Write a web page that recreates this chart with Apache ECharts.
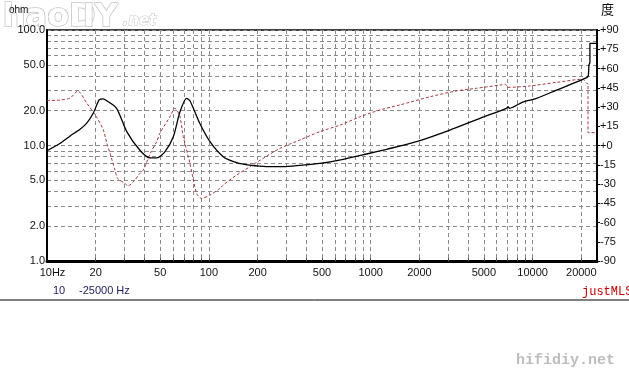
<!DOCTYPE html>
<html>
<head>
<meta charset="utf-8">
<script src="https://cdn.jsdelivr.net/npm/echarts@6/dist/echarts.min.js"></script>
<style>
html,body{margin:0;padding:0;background:#fff;}
#c{width:629px;height:384px;}
</style>
</head>
<body>
<div id="c"></div>
<script>
// Impedance curve (frequency Hz, ohm)
var impFreq = [10, 12, 13.9, 16, 17.6, 19.3, 21, 22.2, 23.4, 26.9, 31.1, 37.5, 43.3, 47.6, 53.6, 60.3, 66.3, 72.9, 76.4, 88, 101.6, 122.7, 148.5, 179, 227, 288, 365, 485, 676, 943, 1254, 1921, 3084, 4726, 6900, 7050, 7200, 8750, 10586, 14060, 21560, 22100, 22300, 22600, 22600, 25000];
var impOhm  = [9.0, 10.4, 12.1, 13.8, 15.6, 19.0, 24.8, 25.3, 24.4, 21.0, 13.2, 9.1, 7.8, 7.8, 8.85, 11.9, 19.6, 25.6, 24.4, 15.5, 10.8, 8.0, 7.1, 6.75, 6.56, 6.56, 6.73, 7.0, 7.6, 8.44, 9.27, 10.8, 13.6, 17.2, 21.0, 21.7, 21.0, 23.9, 25.6, 30.2, 38.7, 40.5, 50, 52, 76.7, 76.7];

// Phase curve (frequency Hz, degrees)
var phFreq = [10, 12, 13.9, 15.5, 17.6, 20.2, 22.3, 23.4, 24.5, 26.3, 27.3, 30.3, 31.5, 34.1, 37.5, 39.4, 43.5, 47.6, 49.8, 57.5, 61.6, 66, 69.5, 76.4, 84, 90, 101.6, 117, 122.7, 148.5, 179.4, 216.5, 275, 365, 485, 650, 860, 1140, 1514, 2330, 3370, 4500, 6300, 6800, 7000, 9600, 14060, 20400, 21560, 22000, 22000, 25000];
var phDeg  = [35, 35.4, 37, 42.5, 33, 22.4, 12, 2, -6, -19, -25.6, -29.5, -31.6, -28.5, -21.7, -19, -6.1, 3.0, 9.5, 22.4, 29, 23.5, 7, -14, -37.3, -41.2, -38.6, -33.4, -30.8, -23, -16.5, -10, -2.2, 4.3, 10.8, 16, 22.4, 27.7, 31.6, 38, 42.5, 44.6, 47.1, 47.7, 45.3, 46.4, 49.2, 51.6, 48.5, 48, 10, 10];

// Axis tick / label values
var xGridValues = [20,30,40,50,60,70,80,90,100,200,300,400,500,600,700,800,900,1000,2000,3000,4000,5000,6000,7000,8000,9000,10000,20000];
var xLabelValues = [10,20,50,100,200,500,1000,2000,5000,10000,20000];
var yGridValues = [1,2,3,4,5,6,7,8,9,10,20,30,40,50,60,70,80,90,100];
var yLabelValues = [1,2,5,10,20,50,100];

function pairs(a, b) { return a.map(function (v, i) { return [v, b[i]]; }); }

var chart = echarts.init(document.getElementById('c'), null, {renderer: 'canvas'});
var labelFont = {fontFamily: '"Liberation Sans", Arial, sans-serif', fontSize: 11, color: '#111'};
var gridLine = {show: true, lineStyle: {color: '#8a8a8a', width: 1, type: [4, 3]}};

chart.setOption({
  animation: false,
  backgroundColor: '#fff',
  grid: {left: 47, right: 32, top: 30, bottom: 123, show: true, borderColor: '#000', borderWidth: 1.5, backgroundColor: 'transparent'},
  xAxis: {
    type: 'log', logBase: 10, min: 10, max: 25000,
    axisLine: {show: true, onZero: false, lineStyle: {color: '#000', width: 3}},
    axisTick: {show: true, inside: true, length: 3, customValues: xGridValues, lineStyle: {color: '#555'}},
    minorTick: {show: false},
    splitLine: gridLine,
    axisLabel: Object.assign({
      customValues: xLabelValues, margin: 6, showMinLabel: true, showMaxLabel: true,
      formatter: function (v) { return v === 10 ? '{a|10Hz}' : String(v); },
      rich: {a: Object.assign({padding: [0, 0, 0, 11]}, labelFont)}
    }, labelFont)
  },
  yAxis: [{
    type: 'log', logBase: 10, min: 1, max: 100, position: 'left',
    axisLine: {show: true, lineStyle: {color: '#000', width: 2}},
    axisTick: {show: false, customValues: yGridValues},
    splitLine: gridLine,
    axisLabel: Object.assign({
      customValues: yLabelValues, margin: 2,
      formatter: function (v) { return Number(v).toFixed(1); }
    }, labelFont)
  }, {
    type: 'value', min: -90, max: 90, interval: 15, position: 'right',
    axisLine: {show: true, lineStyle: {color: '#000', width: 2}},
    axisTick: {show: true, inside: false, length: 3, lineStyle: {color: '#000'}},
    splitLine: {show: false},
    axisLabel: Object.assign({
      margin: 3,
      formatter: function (v) { return v >= 0 ? '+' + v : String(v); }
    }, labelFont)
  }],
  series: [{
    type: 'line', name: 'phase', yAxisIndex: 1, data: pairs(phFreq, phDeg),
    symbol: 'none', smooth: 0.25, z: 3,
    lineStyle: {color: '#a8383c', width: 1, type: [3, 2]}
  }, {
    type: 'line', name: 'impedance', yAxisIndex: 0, data: pairs(impFreq, impOhm),
    symbol: 'none', smooth: 0.25, z: 4,
    lineStyle: {color: '#000', width: 1.3}
  }],
  graphic: [
    {type: 'text', left: 2, top: 1, z: -1, style: {text: 'haoD', font: 'bold 32px "DejaVu Sans", sans-serif', fill: '#fff', stroke: '#c4c4c4', lineWidth: 1.5}},
    {type: 'text', left: 82, top: 1, z: -1, style: {text: 'IY', font: 'bold 32px "DejaVu Sans", sans-serif', fill: '#fff', stroke: '#c4c4c4', lineWidth: 1.5}},
    {type: 'text', left: 122, top: 13, z: -1, style: {text: '.net', font: 'italic bold 15px "DejaVu Sans", sans-serif', fill: '#fff', stroke: '#c4c4c4', lineWidth: 1}},
    {type: 'text', left: 9, top: 5, style: {text: 'ohm', font: '10px "Liberation Sans", Arial, sans-serif', fill: '#111'}},
    {type: 'text', left: 601, top: 3, style: {text: '度', font: '13px "Noto Sans CJK SC", sans-serif', fill: '#111'}},
    {type: 'text', left: 53, top: 285, style: {text: '10', font: '11px "Liberation Sans", Arial, sans-serif', fill: '#1c1c5c'}},
    {type: 'text', left: 79, top: 285, style: {text: '-25000 Hz', font: '11px "Liberation Sans", Arial, sans-serif', fill: '#1c1c5c'}},
    {type: 'text', left: 582, top: 286, style: {text: 'justMLS', font: '12px "Liberation Mono", monospace', fill: '#c00000'}},
    {type: 'line', shape: {x1: 0, y1: 300, x2: 629, y2: 300}, style: {stroke: '#000', lineWidth: 1}},
    {type: 'text', left: 516, top: 353, style: {text: 'hifidiy.net', font: 'bold 15px "Liberation Mono", monospace', fill: '#bdbdbd'}}
  ]
});
</script>
</body>
</html>
